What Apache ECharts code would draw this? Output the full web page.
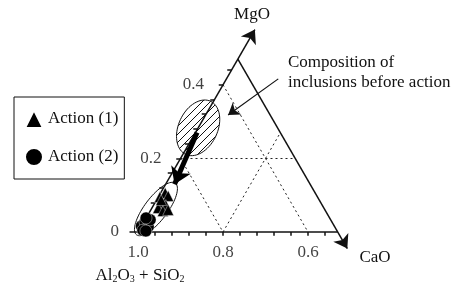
<!DOCTYPE html>
<html lang="en">
<head>
<meta charset="UTF-8">
<title>Inclusion composition</title>
<script src="https://cdn.jsdelivr.net/npm/echarts@6/dist/echarts.min.js"></script>
<style>
  html, body { margin: 0; padding: 0; background: #fff; }
  #chart { width: 473px; height: 292px; }
</style>
</head>
<body>
<div id="chart"></div>
<script>
// points are [MgO, CaO]; the rest is Al2O3 + SiO2
var action1 = [[0.095, 0.004], [0.106, 0.011], [0.098, 0.022], [0.079, 0.017], [0.073, 0.029],
               [0.065, 0.015], [0.057, 0.030], [0.060, 0.041], [0.087, 0.011]];
var action2 = [[0.016, 0.000], [0.027, 0.003], [0.014, 0.017], [0.005, 0.009], [0.033, 0.012],
               [0.003, 0.017], [0.038, 0.000]];

var side = 0.47;                       // triangle drawn up to this fraction
var bottomLabels = [1.0, 0.8, 0.6];    // Al2O3 + SiO2
var leftLabels = [0, 0.2, 0.4];        // MgO
var bottomTicks = [0.04, 0.08, 0.12, 0.16, 0.20, 0.24, 0.28, 0.32, 0.36, 0.40, 0.44];
var leftTicks = [0.04, 0.08, 0.12, 0.16, 0.20, 0.24, 0.28, 0.32, 0.36, 0.40, 0.44];

// dotted guide lines, pairs of [MgO, CaO]
var guides = [
    [[0.2, 0], [0.2, 0.27]],
    [[0.2, 0], [0, 0.2]],
    [[0.4, 0], [0, 0.4]],
    [[0, 0.2], [0.27, 0.2]]
];

// regions: MgO, CaO, long semi-axis, short semi-axis, angle (deg), hatched
var regions = [
    [0.283, 0.000, 0.069, 0.046, 65, 1],
    [0.0625, 0.011, 0.076, 0.027, 53, 0]
];

var SQ3 = Math.sqrt(3);
function toXY(m, c) { return [c + m / 2, m * SQ3 / 2]; }
function seg(a, b) { return { coords: [toXY(a[0], a[1]), toXY(b[0], b[1])] }; }

var serif = 'Liberation Serif';

// hatch pattern
var hatch = document.createElement('canvas');
hatch.width = 8; hatch.height = 8;
var hc = hatch.getContext('2d');
hc.strokeStyle = '#111';
hc.lineWidth = 1;
hc.beginPath();
hc.moveTo(0, 8); hc.lineTo(8, 0);
hc.moveTo(-1, 1); hc.lineTo(1, -1);
hc.moveTo(7, 9); hc.lineTo(9, 7);
hc.stroke();

function renderRegion(params, api) {
    var p = api.coord([api.value(0), api.value(1)]);
    var a = api.size([api.value(2), 0])[0];
    var b = api.size([api.value(3), 0])[0];
    var t = api.value(4) * Math.PI / 180;
    var pts = [];
    for (var i = 0; i < 72; i++) {
        var u = i / 72 * Math.PI * 2;
        var ex = a * Math.cos(u), ey = b * Math.sin(u);
        pts.push([p[0] + ex * Math.cos(t) - ey * Math.sin(t),
                  p[1] - (ex * Math.sin(t) + ey * Math.cos(t))]);
    }
    return {
        type: 'polygon',
        shape: { points: pts },
        style: {
            fill: api.value(5) ? { image: hatch, repeat: 'repeat' } : 'none',
            stroke: '#111',
            lineWidth: 1
        }
    };
}

var chart = echarts.init(document.getElementById('chart'));

chart.setOption({
    animation: false,
    backgroundColor: '#fff',
    grid: { left: 0, right: 0, top: 0, bottom: 0 },
    xAxis: { type: 'value', min: -138 / 425, max: 335 / 425, show: false },
    yAxis: { type: 'value', min: -60 / 425, max: 232 / 425, show: false },
    legend: {
        orient: 'vertical',
        left: 14,
        top: 97,
        padding: [12, 6, 12, 10],
        itemGap: 18,
        itemWidth: 18,
        itemHeight: 18,
        borderColor: '#111',
        borderWidth: 1,
        textStyle: { fontFamily: serif, fontSize: 17, color: '#111' },
        data: [{ name: 'Action (1)', icon: 'triangle' }, { name: 'Action (2)', icon: 'circle' }]
    },
    graphic: [
        { type: 'text', x: 252, y: 15, style: { text: 'MgO', font: '17px "Liberation Serif"', fill: '#111', align: 'center', verticalAlign: 'middle' } },
        { type: 'text', x: 375, y: 258, style: { text: 'CaO', font: '17px "Liberation Serif"', fill: '#111', align: 'center', verticalAlign: 'middle' } },
        { type: 'text', x: 288, y: 63, style: { text: 'Composition of', font: '17px "Liberation Serif"', fill: '#111', align: 'left', verticalAlign: 'middle' } },
        { type: 'text', x: 288, y: 83, style: { text: 'inclusions before action', font: '17px "Liberation Serif"', fill: '#111', align: 'left', verticalAlign: 'middle' } },
        {
            type: 'text', x: 140, y: 276,
            style: {
                text: 'Al{s|2}O{s|3} + SiO{s|2}',
                font: '17px "Liberation Serif"', fill: '#111', align: 'center', verticalAlign: 'middle',
                rich: { s: { fontSize: 10, fontFamily: serif, verticalAlign: 'bottom', padding: [6, 0, 0, 0] } }
            }
        }
    ],
    series: [
        {
            type: 'custom',
            renderItem: renderRegion,
            clip: false,
            silent: true,
            z: 1,
            data: regions.map(function (r) { return toXY(r[0], r[1]).concat([r[2], r[3], r[4], r[5]]); })
        },
        {
            type: 'lines',
            coordinateSystem: 'cartesian2d',
            silent: true,
            z: 2,
            lineStyle: { color: '#222', width: 1, type: [2, 3], opacity: 1 },
            data: guides.map(function (g) { return seg(g[0], g[1]); })
        },
        {
            // bottom edge and ticks
            type: 'lines',
            coordinateSystem: 'cartesian2d',
            silent: true,
            z: 3,
            lineStyle: { color: '#111', width: 1.5, opacity: 1 },
            data: [seg([0, -0.02], [0, side])]
                .concat(bottomTicks.map(function (c) {
                    var p = toXY(0, c);
                    return { coords: [p, [p[0], p[1] - 0.009]] };
                }))
                .concat(leftTicks.map(function (m) {
                    var p = toXY(m, 0);
                    return { coords: [p, [p[0] - 0.01, p[1]]] };
                }))
        },
        {
            // axes with arrow heads
            type: 'lines',
            coordinateSystem: 'cartesian2d',
            silent: true,
            z: 3,
            symbol: ['none', 'arrow'],
            symbolSize: [0, 13],
            lineStyle: { color: '#111', width: 1.5, opacity: 1 },
            data: [seg([0, 0], [0.55, 0]), seg([side, 0], [-0.045, side + 0.045])]
        },
        {
            // note arrow
            type: 'lines',
            coordinateSystem: 'cartesian2d',
            silent: true,
            z: 4,
            symbol: ['none', 'arrow'],
            symbolSize: [0, 11],
            lineStyle: { color: '#111', width: 1.2, opacity: 1 },
            data: [seg([0.416, 0.122], [0.318, 0.053])]
        },
        {
            // shift of composition
            type: 'lines',
            coordinateSystem: 'cartesian2d',
            silent: true,
            z: 4,
            symbol: ['none', 'arrow'],
            symbolSize: [0, 16],
            lineStyle: { color: '#000', width: 5, opacity: 1 },
            data: [seg([0.27, 0.004], [0.13, 0.021])]
        },
        {
            // left axis labels
            type: 'scatter',
            silent: true,
            symbolSize: 0,
            z: 5,
            label: { show: true, position: 'left', distance: 19, fontFamily: serif, fontSize: 17, color: '#111',
                     formatter: function (p) { return p.data.txt; } },
            data: leftLabels.map(function (m) { return { value: toXY(m, 0), txt: m === 0 ? '0' : m.toFixed(1) }; })
        },
        {
            // bottom axis labels
            type: 'scatter',
            silent: true,
            symbolSize: 0,
            z: 5,
            label: { show: true, position: 'bottom', distance: 12, fontFamily: serif, fontSize: 17, color: '#111',
                     formatter: function (p) { return p.data.txt; } },
            data: bottomLabels.map(function (v) { return { value: toXY(0, 1 - v), txt: v.toFixed(1) }; })
        },
        {
            name: 'Action (1)',
            type: 'scatter',
            symbol: 'triangle',
            symbolSize: 11,
            z: 6,
            itemStyle: { color: '#000', opacity: 1, borderColor: '#fff', borderWidth: 0.4 },
            data: action1.map(function (d) { return toXY(d[0], d[1]); })
        },
        {
            name: 'Action (2)',
            type: 'scatter',
            symbol: 'circle',
            symbolSize: 12,
            z: 6,
            itemStyle: { color: '#000', opacity: 1, borderColor: '#fff', borderWidth: 0.4 },
            data: action2.map(function (d) { return toXY(d[0], d[1]); })
        }
    ]
});
</script>
</body>
</html>
